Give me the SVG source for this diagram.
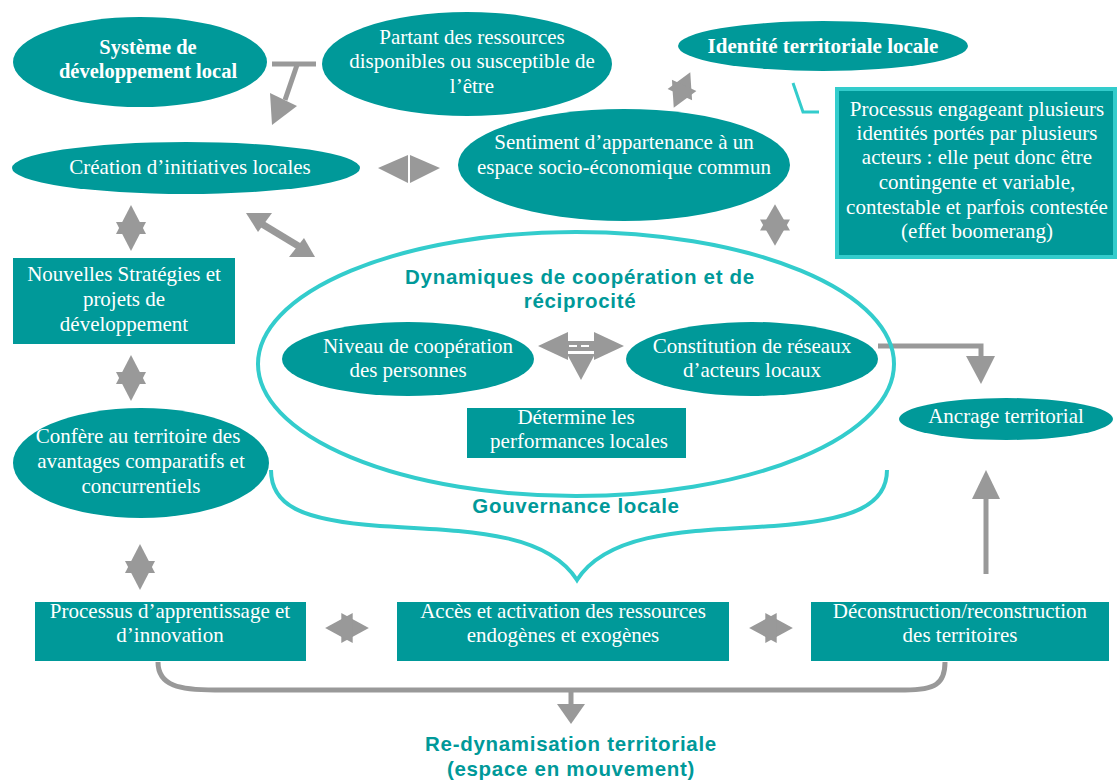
<svg xmlns="http://www.w3.org/2000/svg" xmlns:xlink="http://www.w3.org/1999/xlink" width="1119" height="780" viewBox="0 0 1119 780">
<style>
.n{fill:#009999;}
.t{font-family:"Liberation Serif","Times New Roman",serif;font-size:21px;fill:#ffffff;text-anchor:middle;}
.tb{font-family:"Liberation Serif","Times New Roman",serif;font-size:20.5px;font-weight:bold;fill:#ffffff;text-anchor:middle;}
.h{font-family:"Liberation Sans",Arial,sans-serif;font-size:20.5px;font-weight:bold;fill:#009999;text-anchor:middle;letter-spacing:0.7px;}
.cy{fill:none;stroke:#33CCCC;stroke-width:4;}
.g{fill:#999999;}
.gl{fill:none;stroke:#999999;stroke-width:5;}
</style>
<defs>
<g id="star">
<polygon points="0,-23 -15,6 15,6" fill="#999999"/>
<polygon points="0,23 -15,-6 15,-6" fill="#999999"/>
</g>
</defs>
<rect width="1119" height="780" fill="#ffffff"/>

<g id="connectors">
<line x1="272" y1="64" x2="316" y2="64" class="gl"/>
<line x1="297" y1="65" x2="285" y2="100" class="gl"/>
<polygon class="g" points="270,93 297,106 272,125"/>
<polygon class="g" points="378,168 408,155 408,183"/>
<polygon class="g" points="440,168 410,155 410,183"/>
<line x1="262" y1="224" x2="300" y2="247" stroke="#999999" stroke-width="7"/>
<polygon class="g" points="246,213 272,213 258,232"/>
<polygon class="g" points="315,257 289,257 304,238"/>
<use xlink:href="#star" transform="translate(131,228)"/>
<use xlink:href="#star" transform="translate(131,378)"/>
<use xlink:href="#star" transform="translate(140,567)"/>
<use xlink:href="#star" transform="translate(775,225) scale(1,0.9)"/>
<use xlink:href="#star" transform="translate(682,90) rotate(25) scale(0.9,0.85)"/>
<use xlink:href="#star" transform="translate(347,628) rotate(90) scale(1,0.95)"/>
<use xlink:href="#star" transform="translate(771,628) rotate(90) scale(1,0.95)"/>
<rect x="566" y="341" width="30" height="10" class="g"/>
<polygon class="g" points="538,346 568,332 568,360"/>
<polygon class="g" points="624,346 594,332 594,360"/>
<polygon class="g" points="567,354 595,354 581,380"/>
<line x1="569" y1="346" x2="593" y2="346" stroke="#ffffff" stroke-width="2" stroke-dasharray="8,4"/>
<polyline points="878,346 981,346 981,358" class="gl"/>
<polygon class="g" points="966,356 995,356 981,384"/>
<line x1="986" y1="574" x2="986" y2="497" class="gl"/>
<polygon class="g" points="972,499 1000,499 986,470"/>
<path d="M158,662 C158,686 180,690 215,690 L905,690 C935,690 945,684 945,662" class="gl"/>
<line x1="571" y1="690" x2="571" y2="705" class="gl"/>
<polygon class="g" points="557,704 585,704 571,724"/>
<polyline points="793,83 803,112 819,112" fill="none" stroke="#33CCCC" stroke-width="3"/>
</g>

<g id="systeme">
<ellipse class="n" cx="140" cy="62" rx="127" ry="45"/>
<text class="tb" x="148" y="54">Système de</text>
<text class="tb" x="148" y="78">développement local</text>
</g>
<g id="partant">
<ellipse class="n" cx="467" cy="64" rx="145" ry="52"/>
<text class="t" x="472" y="44">Partant des ressources</text>
<text class="t" x="472" y="68">disponibles ou susceptible de</text>
<text class="t" x="472" y="93">l’être</text>
</g>
<g id="identite">
<ellipse class="n" cx="823" cy="46" rx="145" ry="25"/>
<text class="tb" x="823" y="53" style="font-size:21px">Identité territoriale locale</text>
</g>
<g id="creation">
<ellipse class="n" cx="186" cy="168" rx="174" ry="26"/>
<text class="t" x="190" y="174">Création d’initiatives locales</text>
</g>
<g id="sentiment">
<ellipse class="n" cx="624" cy="165" rx="166" ry="56"/>
<text class="t" x="624" y="149">Sentiment d’appartenance à un</text>
<text class="t" x="624" y="174">espace socio-économique commun</text>
</g>
<g id="processus-identites">
<rect x="837" y="89" width="278" height="168" fill="#009999" stroke="#33CCCC" stroke-width="4"/>
<text class="t" x="977" y="116">Processus engageant plusieurs</text>
<text class="t" x="977" y="140">identités portés par plusieurs</text>
<text class="t" x="977" y="164">acteurs : elle peut donc être</text>
<text class="t" x="977" y="189">contingente et variable,</text>
<text class="t" x="977" y="214">contestable et parfois contestée</text>
<text class="t" x="977" y="238">(effet boomerang)</text>
</g>
<g id="nouvelles">
<rect class="n" x="13" y="258" width="222" height="86"/>
<text class="t" x="124" y="281">Nouvelles Stratégies et</text>
<text class="t" x="124" y="306">projets de</text>
<text class="t" x="124" y="331">développement</text>
</g>
<g id="confere">
<ellipse class="n" cx="141" cy="463" rx="128" ry="55"/>
<text class="t" x="138" y="443">Confère au territoire des</text>
<text class="t" x="141" y="468">avantages comparatifs et</text>
<text class="t" x="141" y="493">concurrentiels</text>
</g>
<g id="dynamiques">
<ellipse class="cy" cx="576" cy="364" rx="318" ry="132"/>
<text class="h" x="580" y="284">Dynamiques de coopération et de</text>
<text class="h" x="580" y="308">réciprocité</text>
</g>
<g id="niveau">
<ellipse class="n" cx="408" cy="359" rx="126" ry="37"/>
<text class="t" x="418" y="353">Niveau de coopération</text>
<text class="t" x="408" y="377">des personnes</text>
</g>
<g id="constitution">
<ellipse class="n" cx="752" cy="359" rx="126" ry="37"/>
<text class="t" x="752" y="353">Constitution de réseaux</text>
<text class="t" x="752" y="377">d’acteurs locaux</text>
</g>
<g id="determine">
<rect class="n" x="467" y="408" width="219" height="50"/>
<text class="t" x="576" y="424">Détermine les</text>
<text class="t" x="579" y="448">performances locales</text>
</g>
<g id="ancrage">
<ellipse class="n" cx="1006" cy="419" rx="107" ry="21"/>
<text class="t" x="1006" y="423">Ancrage territorial</text>
</g>
<g id="gouvernance">
<path class="cy" d="M271,470 C271,505 300,520 380,526 C460,531 545,530 577,580 C609,530 694,531 774,526 C854,520 887,505 887,470"/>
<text class="h" x="576" y="513">Gouvernance locale</text>
</g>
<g id="apprentissage">
<rect class="n" x="35" y="602" width="271" height="59"/>
<text class="t" x="170" y="618">Processus d’apprentissage et</text>
<text class="t" x="170" y="642">d’innovation</text>
</g>
<g id="acces">
<rect class="n" x="397" y="602" width="332" height="59"/>
<text class="t" x="563" y="618">Accès et activation des ressources</text>
<text class="t" x="563" y="642">endogènes et exogènes</text>
</g>
<g id="deconstruction">
<rect class="n" x="811" y="602" width="298" height="59"/>
<text class="t" x="960" y="618">Déconstruction/reconstruction</text>
<text class="t" x="960" y="642">des territoires</text>
</g>
<g id="redynamisation">
<text class="h" x="571" y="751">Re-dynamisation territoriale</text>
<text class="h" x="571" y="776">(espace en mouvement)</text>
</g>
</svg>
